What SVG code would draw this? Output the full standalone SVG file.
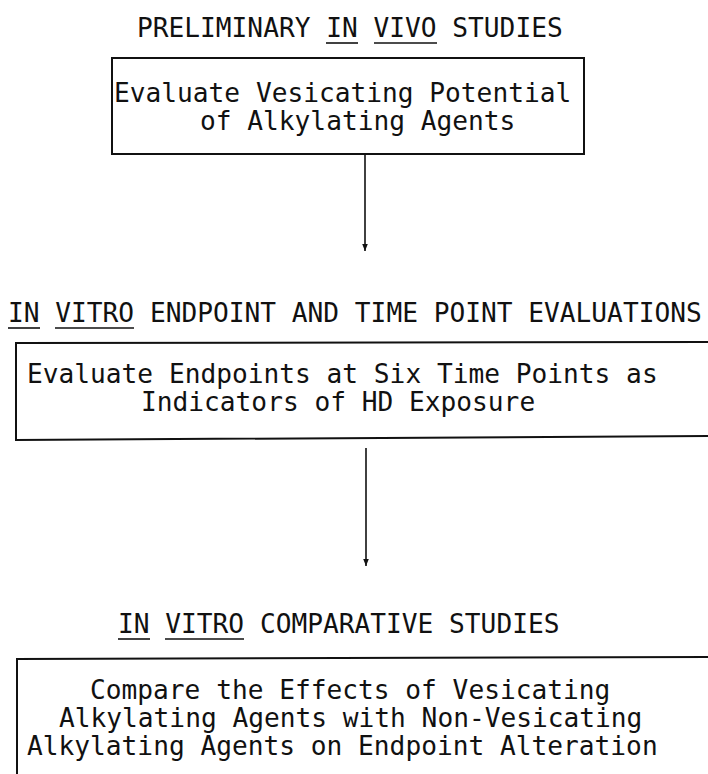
<svg xmlns="http://www.w3.org/2000/svg" width="708" height="774" viewBox="0 0 708 774">
<defs>
<style>
text{font-family:"DejaVu Sans Mono","Liberation Mono",monospace;font-size:26.2px;fill:#111}
.box{fill:none;stroke:#111;stroke-width:2}
.ul{stroke:#111;stroke-width:1.6}
.conn{stroke:#111;stroke-width:1.6;fill:none}
</style>
<marker id="ah" viewBox="0 0 10 10" refX="10" refY="5" markerWidth="7" markerHeight="7" markerUnits="userSpaceOnUse" orient="auto">
<path d="M0,1 L10,5 L0,9 Z" fill="#111"/>
</marker>
</defs>
<rect width="708" height="774" fill="#fff"/>
<g id="title1">
<text x="137" y="37">PRELIMINARY IN VIVO STUDIES</text>
<line class="ul" x1="326" y1="43" x2="358" y2="43"/>
<line class="ul" x1="374" y1="43" x2="437" y2="43"/>
</g>
<g id="node1">
<rect class="box" x="112" y="58" width="472" height="96"/>
<text x="114" y="102">Evaluate Vesicating Potential</text>
<text x="200" y="130">of Alkylating Agents</text>
</g>
<g id="title2">
<text x="8" y="322">IN VITRO ENDPOINT AND TIME POINT EVALUATIONS</text>
<line class="ul" x1="8" y1="328" x2="40" y2="328"/>
<line class="ul" x1="55" y1="328" x2="134" y2="328"/>
</g>
<g id="node2">
<path class="box" d="M712,342 L16,343 L16,440 L712,436"/>
<text x="27" y="383">Evaluate Endpoints at Six Time Points as</text>
<text x="141" y="411">Indicators of HD Exposure</text>
</g>
<g id="title3">
<text x="118" y="633">IN VITRO COMPARATIVE STUDIES</text>
<line class="ul" x1="118" y1="639" x2="150" y2="639"/>
<line class="ul" x1="165" y1="639" x2="244" y2="639"/>
</g>
<g id="node3">
<path class="box" d="M712,657 L17,659 L17,780"/>
<text x="90" y="699">Compare the Effects of Vesicating</text>
<text x="59" y="727">Alkylating Agents with Non-Vesicating</text>
<text x="27" y="755">Alkylating Agents on Endpoint Alteration</text>
</g>
<g id="connectors">
<line class="conn" x1="365" y1="154" x2="365" y2="251" marker-end="url(#ah)"/>
<line class="conn" x1="366" y1="448" x2="366" y2="566" marker-end="url(#ah)"/>
</g>
</svg>
